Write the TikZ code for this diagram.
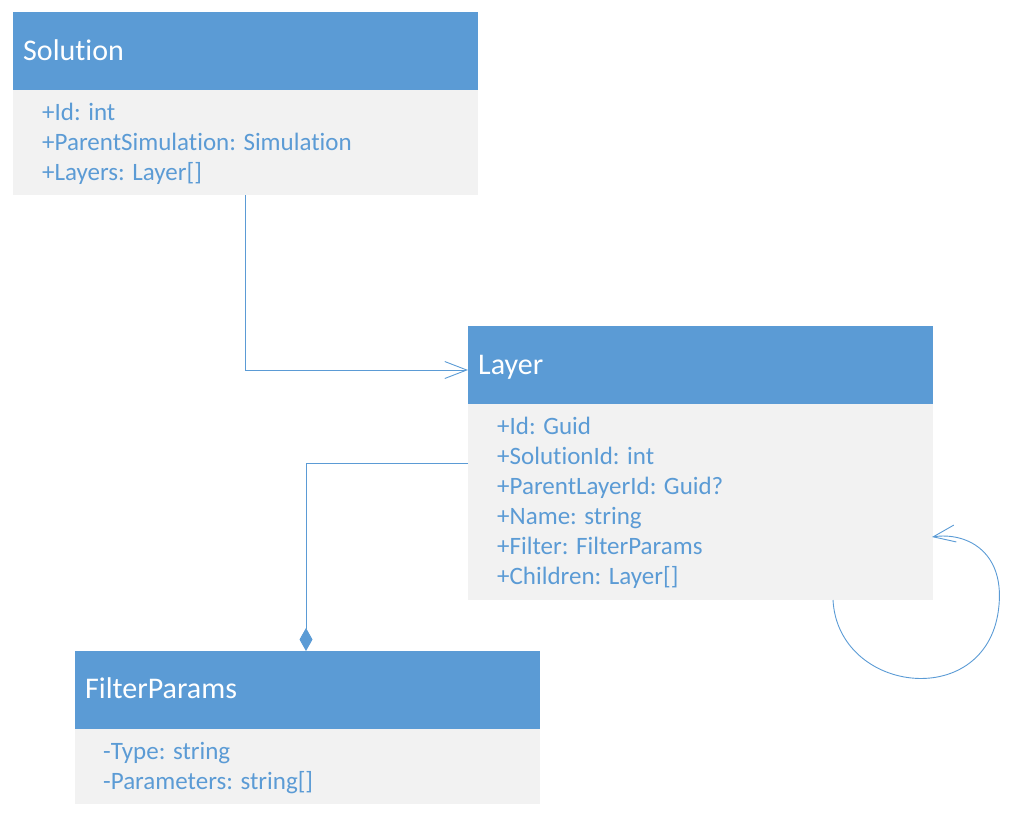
\documentclass[tikz,border=0pt]{standalone}
\usepackage{fontspec}
\setmainfont[Ligatures=NoCommon]{Carlito}
\usetikzlibrary{arrows.meta,calc}
\definecolor{hdr}{HTML}{5B9BD5}
\definecolor{bodyc}{HTML}{F2F2F2}
\definecolor{txt}{HTML}{5B9BD5}
\begin{document}
\begin{tikzpicture}[x=1pt,y=-1pt,
  hdrbox/.style={fill=hdr,draw=none,inner sep=0,minimum width=465pt,minimum height=78pt,anchor=north west},
  bodybox/.style={fill=bodyc,draw=none,inner sep=0,minimum width=465pt,anchor=north west},
  ttl/.style={anchor=base west,inner sep=0,text=white,font=\fontsize{30}{34}\selectfont},
  attr/.style={anchor=base west,inner sep=0,text=txt,font=\fontsize{25}{29}\selectfont},
  conn/.style={draw=hdr,line width=0.9pt},
  assoc/.style={conn,-{Straight Barb[length=22pt,width=17pt,line width=0.9pt]}},
]
\useasboundingbox (0,0) rectangle (1014,820);
% Solution
\node[hdrbox] (solh) at (13,12) {};
\node[bodybox,minimum height=105pt] (solb) at (13,90) {};
\node[ttl] (solt) at (23,60) {Solution};
\node[attr] (sola1) at (42,120) {+Id: int};
\node[attr] (sola2) at (42,150) {+ParentSimulation: Simulation};
\node[attr] (sola3) at (42,180) {+Layers: Layer[]};
% Layer
\node[hdrbox] (layh) at (468,326) {};
\node[bodybox,minimum height=196pt] (layb) at (468,404) {};
\node[ttl] (layt) at (478,374) {Layer};
\node[attr] (laya1) at (497,434) {+Id: Guid};
\node[attr] (laya2) at (497,464) {+SolutionId: int};
\node[attr] (laya3) at (497,494) {+ParentLayerId: Guid?};
\node[attr] (laya4) at (497,524) {+Name: string};
\node[attr] (laya5) at (497,554) {+Filter: FilterParams};
\node[attr] (laya6) at (497,584) {+Children: Layer[]};
% FilterParams
\node[hdrbox] (fph) at (75,651) {};
\node[bodybox,minimum height=75pt] (fpb) at (75,729) {};
\node[ttl] (fpt) at (85,698) {FilterParams};
\node[attr] (fpa1) at (103,759) {-Type: string};
\node[attr] (fpa2) at (103,789) {-Parameters: string[]};
% connectors
\coordinate (loopS) at (833,600);
\coordinate (loopE) at (932,537);
\draw[assoc] (solb.south) |- (layh.west |- 0,370);
\draw[conn,-{Diamond[length=23pt,width=13pt,fill=hdr]}] (layb.west |- 0,463) -| (fph.north -| 306,0);
\draw[assoc] (loopS) .. controls (838,695) and (990,712) .. (999,605)
  .. controls (1004,550) and (965,532) .. (loopE);
\end{tikzpicture}
\end{document}
